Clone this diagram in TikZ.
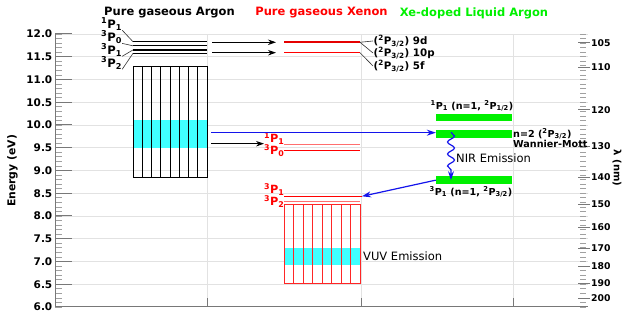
\documentclass[tikz,border=0pt]{standalone}
\usepackage{fontspec}
\setmainfont{DejaVu Sans}
\usetikzlibrary{arrows.meta,decorations.pathmorphing}
\definecolor{xgreen}{RGB}{0,240,0}
\definecolor{xred}{RGB}{255,0,0}
\definecolor{xpink}{RGB}{255,110,110}
\definecolor{xblue}{RGB}{20,20,235}
\definecolor{xcyan}{RGB}{64,255,255}
\definecolor{gridc}{RGB}{226,226,226}
\definecolor{axisc}{RGB}{120,120,120}
\tikzset{
  gridline/.style={gridc, line width=0.6pt},
  axisline/.style={axisc, line width=1pt},
  tickline/.style={axisc!70, line width=0.7pt},
  title/.style={font=\fontsize{11.5}{13}\selectfont\bfseries, inner sep=0pt},
  ticklab/.style={font=\fontsize{10.5}{12}\selectfont\bfseries, inner sep=0pt},
  rticklab/.style={font=\fontsize{9.3}{11}\selectfont\bfseries, inner sep=0pt, anchor=west},
  arlab/.style={font=\fontsize{11.6}{12}\selectfont\bfseries, inner sep=0pt, anchor=west},
  xelab/.style={font=\fontsize{11.3}{12}\selectfont\bfseries, inner sep=0pt, anchor=west, text=xred},
  xrlab/.style={font=\fontsize{10.3}{12}\selectfont\bfseries, inner sep=0.5pt, anchor=west},
  glab/.style={font=\fontsize{9.6}{11}\selectfont\bfseries, inner sep=0pt},
  emis/.style={font=\fontsize{11.5}{13}\selectfont, inner sep=0pt, anchor=west},
  leader/.style={black!80, line width=0.6pt},
  karrow/.style={-{Stealth[length=8pt,width=5.5pt]}, black, line width=0.9pt},
  barrow/.style={-{Stealth[length=9pt,width=6pt]}, xblue, line width=1.2pt},
  greenbar/.style={fill=xgreen, draw=none, minimum width=76pt, inner sep=0pt},
  arlevel/.style={black, line width=1.2pt},
}
\begin{document}
\begin{tikzpicture}[x=1pt,y=45.5pt]
\useasboundingbox (0,5.71429) rectangle (624,12.74725);
% grid
\foreach \e in {6.5,7.0,7.5,8.0,8.5,9.0,9.5,10.0,10.5,11.0,11.5,12.0}
  \draw[gridline] (55,\e) -- (588,\e);
\foreach \x in {207,361,513}
  \draw[gridline] (\x,6) -- (\x,12);
% left axis
\foreach \i in {0,...,60}
  \draw[tickline] (55,{6+0.1*\i}) -- (62,{6+0.1*\i});
\foreach \e/\t in {6/6.0,6.5/6.5,7/7.0,7.5/7.5,8/8.0,8.5/8.5,9/9.0,9.5/9.5,10/10.0,10.5/10.5,11/11.0,11.5/11.5,12/12.0}{
  \draw[axisline] (55,\e) -- (72,\e);
  \node[ticklab, anchor=east] (yl\t) at (52.5,\e) {\t};
}
\draw[axisline] (55,6) -- (55,12);
\draw[axisline] (55,6) -- (588,6);
\foreach \x in {207,361,513}
  \draw[axisc, line width=0.8pt] (\x,6) -- (\x,6.2);
\node[font=\fontsize{10.8}{12}\selectfont\bfseries, rotate=90, inner sep=0pt] (ylab) at (12.5,8.99) {Energy (eV)};
% right axis
\foreach \i in {0,...,60}
  \draw[tickline] (580,{6+0.1*\i}) -- (586,{6+0.1*\i});
\foreach \l in {105,110,120,130,140,150,160,170,180,190,200}{
  \draw[axisc, line width=0.8pt] (578,{1239.84/\l}) -- (590,{1239.84/\l});
  \node[rticklab] (rl\l) at (591,{1239.84/\l}) {\l};
}
\node[font=\fontsize{10}{12}\selectfont\bfseries, rotate=-90, inner sep=0pt] (rlab) at (617,9.05) {λ (nm)};
% titles
\node[title] (t1) at (169.5,12.462) {Pure gaseous Argon};
\node[title, text=xred] (t2) at (321.5,12.462) {Pure gaseous Xenon};
\node[title, text=xgreen] (t3) at (474,12.462) {Xe-doped Liquid Argon};
% ---- Argon ----
\fill[xcyan] (133,9.49) rectangle (207,10.11);
\foreach \k in {0,...,8}
  \draw[black, line width=0.9pt] ({133+9.25*\k},8.84) -- ({133+9.25*\k},11.28);
\draw[black, line width=0.9pt] (133,8.84) rectangle (207,11.28);
\draw[arlevel] (133,11.83) coordinate (ar1) -- (207,11.83);
\draw[arlevel] (133,11.74) coordinate (ar2) -- (207,11.74);
\draw[arlevel] (133,11.65) coordinate (ar3) -- (207,11.65);
\draw[arlevel] (133,11.575) coordinate (ar4) -- (207,11.575);
\node[arlab] (arl1) at (101,12.220) {\textsuperscript{1}P\textsubscript{1}};
\node[arlab] (arl2) at (101,11.934) {\textsuperscript{3}P\textsubscript{0}};
\node[arlab] (arl3) at (101,11.648) {\textsuperscript{3}P\textsubscript{1}};
\node[arlab] (arl4) at (101,11.363) {\textsuperscript{3}P\textsubscript{2}};
\draw[leader] (arl1.south east) -- (ar1);
\draw[leader] (arl2.south east) -- (ar2);
\draw[leader] (arl3.south east) -- (ar3);
\draw[leader] (arl4.south east) -- (ar4);
% ---- Xenon ----
\fill[xcyan] (284,6.92) rectangle (360,7.30);
\foreach \k in {0,...,8}
  \draw[xred!85, line width=0.9pt] ({284+9.5*\k},6.52) -- ({284+9.5*\k},8.26);
\draw[xred!85, line width=0.9pt] (284,6.52) rectangle (360,8.26);
\draw[xred!90!black, line width=2.4pt] (284,11.818) -- (360,11.818) coordinate (xe1e);
\draw[xred, line width=1.3pt] (284,11.589) -- (360,11.589) coordinate (xe2e);
\draw[xpink, line width=1.5pt] (284,9.576) -- (360,9.576);
\draw[xred, line width=1.1pt] (284,9.444) -- (360,9.444);
\draw[xred, line width=1.2pt] (284,8.433) -- (362,8.433) coordinate (xe3e);
\draw[xpink, line width=1.5pt] (284,8.314) -- (360,8.314);
\node[xrlab] (xr1) at (373,11.846) {(\textsuperscript{2}P\textsubscript{3/2}) 9d};
\node[xrlab] (xr2) at (373,11.582) {(\textsuperscript{2}P\textsubscript{3/2}) 10p};
\node[xrlab] (xr3) at (373,11.297) {(\textsuperscript{2}P\textsubscript{3/2}) 5f};
\draw[leader] (xe1e) -- (xr1.west);
\draw[leader] (xe1e) -- (xr2.west);
\draw[leader] (xe2e) -- (xr3.west);
\node[xelab] (xl1) at (264,9.692) {\textsuperscript{1}P\textsubscript{1}};
\node[xelab] (xl2) at (264,9.429) {\textsuperscript{3}P\textsubscript{0}};
\node[xelab] (xl3) at (264,8.571) {\textsuperscript{3}P\textsubscript{1}};
\node[xelab] (xl4) at (264,8.308) {\textsuperscript{3}P\textsubscript{2}};
\node[emis] (vuv) at (363,7.121) {VUV Emission};
% Ar -> Xe arrows
\coordinate (ka) at (212,11.818);
\coordinate (kb) at (212,11.589);
\coordinate (kc) at (211,9.589);
\coordinate (kaE) at (276,11.818);
\coordinate (kbE) at (276,11.589);
\draw[karrow] (ka) -- (kaE);
\draw[karrow] (kb) -- (kbE);
\draw[karrow] (kc) -- (kc -| xl1.west);
% ---- Xe-doped LAr ----
\node[greenbar, minimum height=6.7pt] (gtop) at (474,10.168) {};
\node[greenbar, minimum height=8.3pt] (gmid) at (474,9.80) {};
\node[greenbar, minimum height=8.3pt] (gbot) at (474,8.788) {};
\node[glab] (gtl) at (472,10.418) {\textsuperscript{1}P\textsubscript{1} (n=1, \textsuperscript{2}P\textsubscript{1/2})};
\node[glab] (gbl) at (471,8.527) {\textsuperscript{3}P\textsubscript{1} (n=1, \textsuperscript{2}P\textsubscript{3/2})};
\node[glab, anchor=west] (gml) at (513,9.802) {n=2 (\textsuperscript{2}P\textsubscript{3/2})};
\node[glab, anchor=west] (wm) at (513,9.582) {Wannier-Mott};
\node[emis] (nir) at (456,9.275) {NIR Emission};
% blue arrows
\coordinate (bA) at (211,9.831);
\draw[barrow] (bA) -- (bA -| gmid.west);
\draw[barrow] (gbot.west) -- (xe3e);
\coordinate (wS) at (451,9.84);
\draw[xblue, line width=1.2pt, -{Stealth[length=9pt,width=6pt]},
  decorate, decoration={snake, amplitude=3.5pt, segment length=12pt, post length=9pt}]
  (wS) -- (wS |- gbot.center);
\end{tikzpicture}
\end{document}
